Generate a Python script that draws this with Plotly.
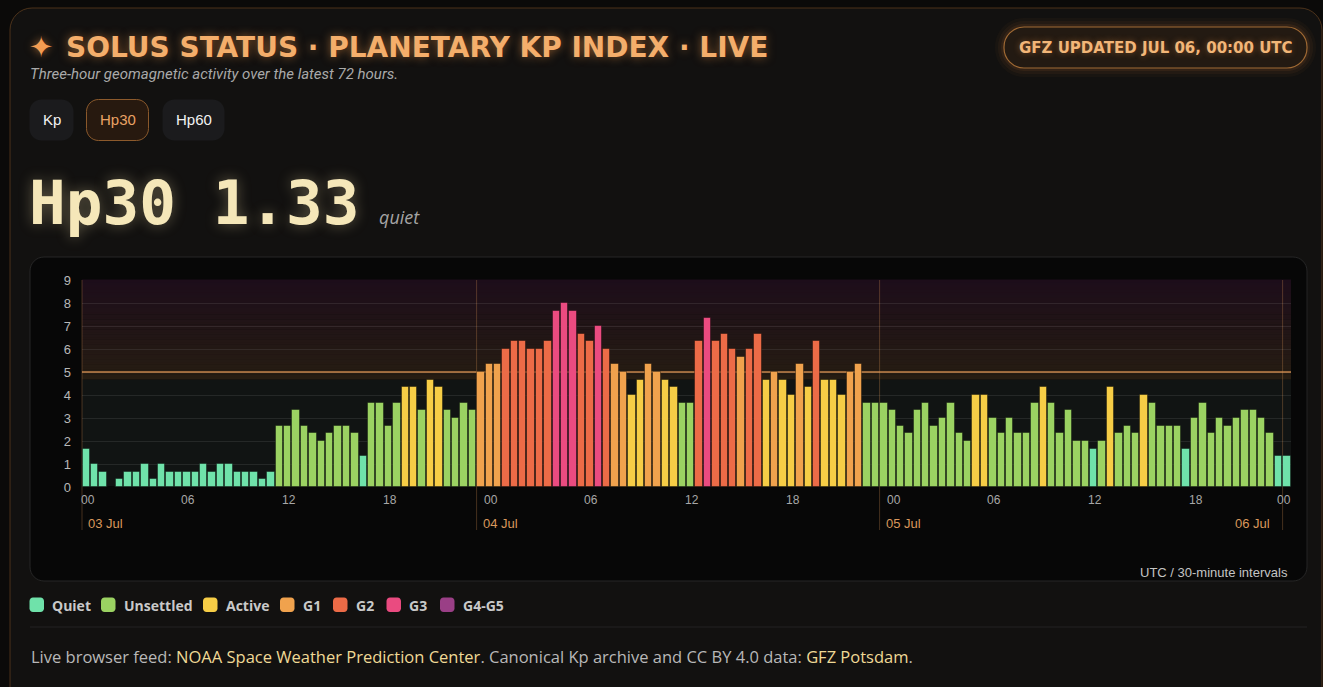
import pandas as pd
import plotly.graph_objects as go

W, H = 1323, 687
PL, PR, PT, PB = 82, 1291, 280, 487  # plot area in page pixels

RANGE_START = "2025-07-03 00:30"
RANGE_END = "2025-07-06 00:30"

# Hp30 values, one per 30-minute slot starting 03 Jul 00:30 UTC
hp_jul03 = [1.67, 1.0, 0.67, 0.0, 0.33, 0.67, 0.67, 1.0, 0.33, 1.0, 0.67, 0.67,
            0.67, 0.67, 1.0, 0.67, 1.0, 1.0, 0.67, 0.67, 0.67, 0.33, 0.67, 2.67,
            2.67, 3.33, 2.67, 2.33, 2.0, 2.33, 2.67, 2.67, 2.33, 1.33, 3.67, 3.67,
            2.67, 3.67, 4.33, 4.33, 3.33, 4.67, 4.33, 3.33, 3.0, 3.67, 3.33]
hp_jul04 = [5.0, 5.33, 5.33, 6.0, 6.33, 6.33, 6.0, 6.0, 6.33, 7.67, 8.0, 7.67,
            6.67, 6.33, 7.0, 6.0, 5.33, 5.0, 4.0, 4.67, 5.33, 5.0, 4.67, 4.33,
            3.67, 3.67, 6.33, 7.33, 6.33, 6.67, 6.0, 5.67, 6.0, 6.67, 4.67, 5.0,
            4.67, 4.0, 5.33, 4.33, 6.33, 4.67, 4.67, 4.0, 5.0, 5.33, 3.67, 3.67]
hp_jul05 = [3.67, 3.33, 2.67, 2.33, 3.33, 3.67, 2.67, 3.0, 3.67, 2.33, 2.0, 4.0,
            4.0, 3.0, 2.33, 3.0, 2.33, 2.33, 3.67, 4.33, 3.67, 2.33, 3.33, 2.0,
            2.0, 1.67, 2.0, 4.33, 2.33, 2.67, 2.33, 4.0, 3.67, 2.67, 2.67, 2.67,
            1.67, 3.0, 3.67, 2.33, 3.0, 2.67, 3.0, 3.33, 3.33, 3.0, 2.33, 1.33]
hp_jul06 = [1.33]
hp_values = hp_jul03 + hp_jul04 + hp_jul05 + hp_jul06

levels = ["Quiet", "Unsettled", "Active", "G1", "G2", "G3", "G4-G5"]
level_floor = [0, 2, 4, 5, 6, 7, 8.33]
level_colors = ["#6fe2aa", "#9bd262", "#f6cd46", "#f0a24d", "#ec6b47", "#ea4b80", "#9a3f86"]

hour_ticks = ["00", "06", "12", "18"]
day_labels = ["03 Jul", "04 Jul", "05 Jul", "06 Jul"]

STORM_LEVEL = 5
CURRENT = "Hp30 1.33"


def fx(x):
    return (x - PL) / (PR - PL)


def fy(y):
    return (PB - y) / (PB - PT)


def rrect(x0, y0, x1, y1, r):
    k = 0.5523 * r
    segs = [
        ("M", [(x0 + r, y0)]),
        ("L", [(x1 - r, y0)]),
        ("C", [(x1 - r + k, y0), (x1, y0 + r - k), (x1, y0 + r)]),
        ("L", [(x1, y1 - r)]),
        ("C", [(x1, y1 - r + k), (x1 - r + k, y1), (x1 - r, y1)]),
        ("L", [(x0 + r, y1)]),
        ("C", [(x0 + r - k, y1), (x0, y1 - r + k), (x0, y1 - r)]),
        ("L", [(x0, y0 + r)]),
        ("C", [(x0, y0 + r - k), (x0 + r - k, y0), (x0 + r, y0)]),
    ]
    s = " ".join(c + " ".join(f"{fx(a):.5f},{fy(b):.5f}" for a, b in p) for c, p in segs)
    return s + " Z"


def box(x0, y0, x1, y1, r, fill, line="rgba(0,0,0,0)", lw=0):
    return dict(type="path", xref="paper", yref="paper", layer="below",
                path=rrect(x0, y0, x1, y1, r), fillcolor=fill,
                line=dict(color=line, width=lw))


def label(x, y, text, size, color, family="Liberation Sans", anchor="left",
          weight="normal", style="normal", shadow="none", yanchor="middle"):
    return dict(x=fx(x), y=fy(y), xref="paper", yref="paper", text=text,
                showarrow=False, xanchor=anchor, yanchor=yanchor,
                font=dict(family=family, size=size, color=color, weight=weight,
                          style=style, shadow=shadow))


def level_of(v):
    idx = 0
    for i, f in enumerate(level_floor):
        if v >= f:
            idx = i
    return idx


slot = pd.Timedelta(minutes=30)
slot_ms = 30 * 60 * 1000
x_centers = pd.date_range(RANGE_START, periods=len(hp_values), freq="30min") + slot / 2
bar_colors = [level_colors[level_of(v)] for v in hp_values]

t0 = pd.Timestamp(RANGE_START)
t1 = pd.Timestamp(RANGE_END)


def tfrac(ts):
    return (pd.Timestamp(ts) - t0) / (t1 - t0)


fig = go.Figure()
fig.add_trace(go.Bar(
    x=x_centers, y=hp_values, width=0.88 * slot_ms,
    marker=dict(color=bar_colors, line=dict(color="rgba(0,0,0,0.38)", width=1)),
    hoverinfo="skip", showlegend=False,
))

shapes = []
# page card
shapes.append(box(10, 8, 1322, 760, 22, "#121110", "rgba(150,95,45,0.45)", 1))
# badge glow + badge
for grow, a in [(9, 0.035), (6, 0.05), (3, 0.08)]:
    shapes.append(box(1004 - grow, 27 - grow, 1307 + grow, 68 + grow, 20 + grow,
                      f"rgba(235,145,60,{a})"))
shapes.append(box(1004, 27, 1307, 68, 20, "#231a12", "#a06a34", 1.2))
# selector pills
shapes.append(box(29.5, 99.5, 73.5, 140.5, 12, "#1b1b1d"))
shapes.append(box(86.5, 99.5, 148.5, 140.5, 12, "#27190f", "#8c5a2c", 1))
shapes.append(box(162.5, 99.5, 224.5, 140.5, 12, "#1b1b1d"))
# chart container
shapes.append(box(30, 257, 1307, 581, 14, "#070707", "#262626", 1))
# plot background: calm zone then storm gradient
shapes.append(dict(type="rect", xref="paper", yref="paper", layer="below",
                   x0=0, x1=1, y0=0, y1=4.67 / 9, fillcolor="#111413", line=dict(width=0)))
c_lo, c_hi = (38, 29, 18), (29, 13, 26)
n = 40
for i in range(n):
    f = (i + 0.5) / n
    c = tuple(round(c_lo[j] + (c_hi[j] - c_lo[j]) * f) for j in range(3))
    ya = 4.67 + (9 - 4.67) * i / n
    yb = 4.67 + (9 - 4.67) * (i + 1) / n
    shapes.append(dict(type="rect", xref="paper", yref="paper", layer="below",
                       x0=0, x1=1, y0=ya / 9, y1=yb / 9 + 0.002,
                       fillcolor=f"rgb{c}", line=dict(width=0)))
# day dividers
for d in range(4):
    xf = max(0, tfrac(pd.Timestamp("2025-07-03") + pd.Timedelta(days=d)))
    shapes.append(dict(type="line", xref="paper", yref="paper", layer="below",
                       x0=xf, x1=xf, y0=fy(530), y1=1,
                       line=dict(color="rgba(205,140,80,0.32)", width=1)))
# storm threshold
shapes.append(dict(type="line", xref="x", yref="y", layer="between",
                   x0=RANGE_START, x1=RANGE_END, y0=STORM_LEVEL, y1=STORM_LEVEL,
                   line=dict(color="rgba(226,152,84,0.62)", width=2)))
# legend swatches
legend_x = [29.5, 101, 203, 280, 333, 386.5, 440]
for lx, col in zip(legend_x, level_colors):
    shapes.append(box(lx, 597.5, lx + 14.5, 612, 3.5, col))
# footer rule
shapes.append(dict(type="line", xref="paper", yref="paper", layer="below",
                   x0=fx(30), x1=fx(1307), y0=fy(627), y1=fy(627),
                   line=dict(color="#222222", width=1)))

ann = []
ann.append(label(27, 47, "✦", 29, "#f39c52", family="DejaVu Sans",
                 shadow="0 0 8px rgba(240,150,70,0.6)"))
ann.append(label(64, 47.5, "SOLUS STATUS · PLANETARY KP INDEX · LIVE", 28, "#f4ae6b",
                 family="DejaVu Sans", weight="bold",
                 shadow="0 0 10px rgba(240,150,70,0.55)"))
ann.append(label(28, 74, "Three-hour geomagnetic activity over the latest 72 hours.",
                 15, "#a9a9a9", family="Roboto", style="italic"))
ann.append(label(1155.5, 48, "GFZ UPDATED JUL 06, 00:00 UTC", 15, "#f2b678",
                 family="DejaVu Sans", weight="bold", anchor="center",
                 shadow="0 0 6px rgba(240,150,70,0.45)"))
ann.append(label(51.5, 120, "Kp", 15, "#f2f2f2", anchor="center"))
ann.append(label(117.5, 120, "Hp30", 15, "#e9a264", anchor="center"))
ann.append(label(193.5, 120, "Hp60", 15, "#f2f2f2", anchor="center"))
ann.append(label(27, 202, CURRENT, 61, "#f5e7b9", family="DejaVu Sans Mono",
                 weight="bold", shadow="0 0 14px rgba(245,225,170,0.35)"))
ann.append(label(377, 217, "quiet", 18, "#a5a5a5", family="Open Sans", style="italic"))

# x axis tick labels (hour + day)
for d in range(4):
    day = pd.Timestamp("2025-07-03") + pd.Timedelta(days=d)
    hours = hour_ticks if d < 3 else hour_ticks[:1]
    for h in hours:
        xf = tfrac(day + pd.Timedelta(hours=int(h)))
        px = PL + xf * (PR - PL)
        if d < 3:
            ann.append(label(px + 5, 500, h, 12, "#a7a7a7"))
        else:
            ann.append(label(PR + 2, 500, h, 12, "#a7a7a7", anchor="right"))
    xd = max(PL, PL + tfrac(day) * (PR - PL))
    if d < 3:
        ann.append(label(xd + 4, 523, day_labels[d], 13, "#d9985c"))
    else:
        ann.append(label(xd - 11, 523, day_labels[d], 13, "#d9985c", anchor="right"))

ann.append(label(1290, 572, "UTC / 30-minute intervals", 13, "#c4c4c4", anchor="right"))

for lx, name in zip(legend_x, levels):
    ann.append(label(lx + 20.5, 605, name, 14, "#c9c9c9", family="Open Sans", weight="bold"))

link = "#efd996"
footer = ("Live browser feed: "
          f"<span style='color:{link}'>NOAA Space Weather Prediction Center</span>. "
          "Canonical Kp archive and CC BY 4.0 data: "
          f"<span style='color:{link}'>GFZ Potsdam</span>.")
ann.append(label(29, 656, footer, 16.5, "#b8b8b8", family="Open Sans"))

fig.update_layout(
    width=W, height=H,
    margin=dict(l=PL, r=W - PR, t=PT, b=H - PB, pad=0),
    paper_bgcolor="#0b0a09", plot_bgcolor="rgba(0,0,0,0)",
    shapes=shapes, annotations=ann, showlegend=False, bargap=0,
    xaxis=dict(type="date", range=[RANGE_START, RANGE_END], showgrid=False,
               showticklabels=False, zeroline=False, showline=False, fixedrange=True),
    yaxis=dict(range=[0, 9], dtick=1, tick0=0, showgrid=True,
               gridcolor="rgba(255,255,255,0.085)", gridwidth=1, zeroline=False,
               showline=False, ticklabelstandoff=10, fixedrange=True,
               tickfont=dict(family="Liberation Sans", size=13, color="#b8b8b8")),
)

fig.write_html("out.html", config={"displayModeBar": False},
               post_script="document.body.style.margin='0';"
                           "document.body.style.background='#0b0a09';")
